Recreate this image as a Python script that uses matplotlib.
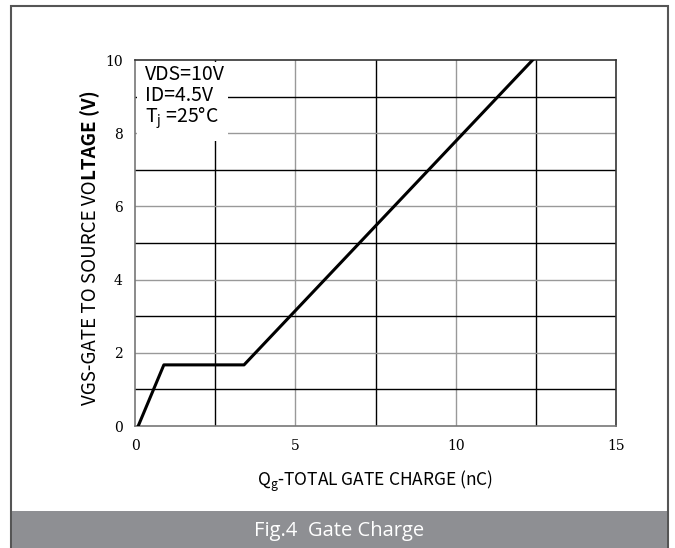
import matplotlib
matplotlib.use("Agg")
import matplotlib.pyplot as plt
from matplotlib.patches import Rectangle

# gate charge curve (nC, V)
qg = [0.1, 0.9, 3.4, 12.4]
vgs = [0.0, 1.67, 1.67, 10.0]

x_ticks = [0, 5, 10, 15]
y_ticks = [0, 2, 4, 6, 8, 10]
x_grid_dark = [2.5, 7.5, 12.5]
x_grid_light = [5, 10]
y_grid_dark = [1, 3, 5, 7, 9]
y_grid_light = [2, 4, 6, 8]

sans = ['Noto Sans CJK SC', 'DejaVu Sans']
serif = 'DejaVu Serif'
plt.rcParams['mathtext.default'] = 'regular'

fig = plt.figure(figsize=(6.75, 5.48), dpi=100)
W, H = 675, 548

# outer frame and bottom banner
fig.add_artist(Rectangle((11 / W, 0), 657 / W, 1 - 6 / H, transform=fig.transFigure,
                         facecolor='white', edgecolor='#555555', linewidth=1.5, zorder=-2))
fig.add_artist(Rectangle((12 / W, 0), 655 / W, 37 / H, transform=fig.transFigure,
                         facecolor='#8e8f93', edgecolor='none', zorder=-1))
fig.text(339 / W, 17 / H, 'Fig.4  Gate Charge', color='white', fontsize=14.5,
         ha='center', va='center', family=['Open Sans', 'DejaVu Sans'])

ax = fig.add_axes([135 / W, 122 / H, 481 / W, 366 / H])
ax.set_xlim(0, 15)
ax.set_ylim(0, 10)

for x in x_grid_dark:
    ax.axvline(x, color='black', linewidth=1, zorder=1)
for x in x_grid_light:
    ax.axvline(x, color='#999999', linewidth=1, zorder=1)
for y in y_grid_dark:
    ax.axhline(y, color='black', linewidth=1, zorder=1)
for y in y_grid_light:
    ax.axhline(y, color='#999999', linewidth=1, zorder=1)

ax.plot(qg, vgs, color='black', linewidth=2.2, zorder=3)

for s in ax.spines.values():
    s.set_color('#777777')
    s.set_linewidth(1.2)
ax.spines['top'].set_color('#333333')
ax.spines['right'].set_color('#333333')

ax.set_xticks(x_ticks)
ax.set_yticks(y_ticks)
ax.tick_params(length=0, pad=9, labelsize=10)
for lab in ax.get_xticklabels() + ax.get_yticklabels():
    lab.set_family(serif)

# condition box
ax.add_patch(Rectangle((0.06, 7.8), 2.85, 2.15, facecolor='white', edgecolor='none', zorder=2))
ax.text(0.3, 9.9, 'VDS=10V\nID=4.5V\nT$_j$ =25°C', fontsize=14, va='top', ha='left',
        linespacing=1.0, family=sans, zorder=4)

ax.set_xlabel('Q$_g$-TOTAL GATE CHARGE (nC)', fontsize=12.5, family=sans, labelpad=12)

t1 = fig.text(90 / W, (H - 405) / H, 'VGS-GATE TO SOURCE VO', rotation=90, fontsize=13.5,
              ha='center', va='bottom', family=sans)
ax.annotate('LTAGE (V)', xy=(0.5, 1.0), xycoords=t1, rotation=90, fontsize=13.5,
            fontweight='bold', ha='center', va='bottom', family=sans,
            annotation_clip=False)

fig.savefig('out.png', dpi=100)
